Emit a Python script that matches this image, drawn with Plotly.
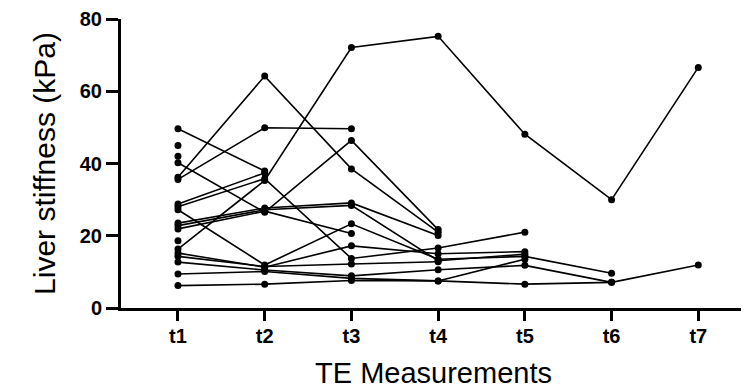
import plotly.graph_objects as go

categories = ["t1", "t2", "t3", "t4", "t5", "t6", "t7"]

# Liver stiffness (kPa) per patient; None = no measurement
p01 = [16.3, 35.3, 72.1, 75.2, 48.1, 30.0, 66.6]
p02 = [36.2, 64.2, 38.5, 21.0]
p03 = [35.6, 49.9, 49.6]
p04 = [49.6, 37.9]
p05 = [28.8, 37.4]
p06 = [28.0, 35.8, 13.7, 16.6, 21.0]
p07 = [27.2, 11.9, 23.3, 13.5, 14.3, 9.6]
p08 = [40.2, 26.5, 46.4, 21.7]
p09 = [23.5, 27.7, 29.1, 20.1]
p10 = [22.8, 27.2, 28.4, 13.1, 14.9]
p11 = [21.9, 26.8, 20.6]
p12 = [15.2, 11.3, 17.2, 15.0, 15.6]
p13 = [14.3, 11.5, 12.2, 12.8]
p14 = [12.7, 10.5, 8.9, 10.6, 11.8, 7.1]
p15 = [9.4, 10.1, 8.2, 7.5, 13.5]
p16 = [6.2, 6.6, 7.6, 7.5, 6.6, 7.1, 11.9]
p17 = [45.0]
p18 = [42.0]
p19 = [18.6]

patients = [p01, p02, p03, p04, p05, p06, p07, p08, p09, p10,
            p11, p12, p13, p14, p15, p16, p17, p18, p19]

fig = go.Figure()
for vals in patients:
    fig.add_trace(go.Scatter(
        x=categories[:len(vals)], y=vals,
        mode="lines+markers",
        line=dict(color="black", width=1.6),
        marker=dict(color="black", size=7),
        showlegend=False,
        cliponaxis=False,
    ))

font_family = "Liberation Sans, Arial, sans-serif"
fig.update_layout(
    width=741, height=384,
    margin=dict(l=113, r=3, t=11, b=84),
    paper_bgcolor="white", plot_bgcolor="white",
    font=dict(family=font_family, color="black"),
)
fig.update_xaxes(
    type="category", categoryorder="array", categoryarray=categories,
    range=[-0.657, 6.55], automargin=False,
    showline=True, linecolor="black", linewidth=3,
    ticks="outside", ticklen=10, tickwidth=3, tickcolor="black",
    ticklabelstandoff=-2,
    showgrid=False, zeroline=False,
    tickfont=dict(size=20, weight="bold", family=font_family),
    title=dict(text="TE Measurements", font=dict(size=29, family=font_family), standoff=17),
)
fig.update_yaxes(
    range=[0, 80], tickvals=[0, 20, 40, 60, 80], automargin=False,
    showline=True, linecolor="black", linewidth=3,
    ticks="outside", ticklen=12, tickwidth=3, tickcolor="black",
    showgrid=False, zeroline=False,
    tickfont=dict(size=20, weight="bold", family=font_family),
    title=dict(text="Liver stiffness (kPa)", font=dict(size=30, family=font_family), standoff=16),
)

fig.write_html("out.html")
